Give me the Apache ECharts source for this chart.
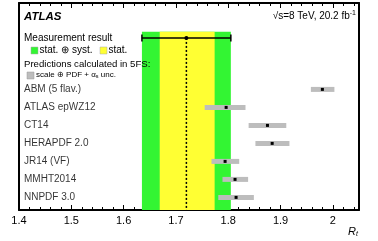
<!DOCTYPE html>
<html><head><meta charset="utf-8">
<script src="https://cdn.jsdelivr.net/npm/echarts@6/dist/echarts.min.js"></script>
<style>html,body{margin:0;padding:0;background:#fff}#c{width:378px;height:241px}</style>
</head><body><div id="c"></div>
<script>
// Predictions (top to bottom)
const names = ['ABM (5 flav.)','ATLAS epWZ12','CT14','HERAPDF 2.0','JR14 (VF)','MMHT2014','NNPDF 3.0'];
const central = [1.980, 1.796, 1.875, 1.884, 1.794, 1.813, 1.815];
const low = [1.958, 1.755, 1.839, 1.852, 1.768, 1.789, 1.781];
const high = [2.003, 1.833, 1.911, 1.917, 1.821, 1.838, 1.849];
// Measurement
const measCentral = 1.72;
const statRange = [1.669, 1.774];
const totalRange = [1.635, 1.805];
const xTicks = [1.4, 1.5, 1.6, 1.7, 1.8, 1.9, 2.0];

const Y_MIN = -4.8, Y_MAX = 6.7, MEAS_Y = -2.86, BAND_TOP = -3.2;
const FONT = 'Liberation Sans, Arial, sans-serif';

const chart = echarts.init(document.getElementById('c'));
const bandData = [[totalRange[0], totalRange[1], '#33f533'], [statRange[0], statRange[1], '#ffff33']];

const axisLine = {show: true, onZero: false, lineStyle: {color: '#000', width: 2}};

chart.setOption({
  animation: false,
  grid: {left: 19, right: 19, top: 3, bottom: 31},
  xAxis: [{
    type: 'value', min: 1.4, max: 2.05, interval: 0.1, position: 'bottom',
    axisLine: axisLine,
    axisTick: {show: true, inside: true, length: 5, lineStyle: {color: '#000', width: 1}},
    minorTick: {show: true, splitNumber: 5, length: 3, lineStyle: {color: '#000', width: 1}},
    splitLine: {show: false},
    axisLabel: {color: '#000', fontFamily: FONT, fontSize: 11, margin: 5, showMaxLabel: false,
      formatter: v => xTicks.some(t => Math.abs(t - v) < 1e-6) ? String(Math.round(v * 10) / 10) : ''}
  }, {
    type: 'value', min: 1.4, max: 2.05, interval: 0.1, position: 'top',
    axisLine: axisLine,
    axisTick: {show: true, inside: true, length: 5, lineStyle: {color: '#000', width: 1}},
    minorTick: {show: true, splitNumber: 5, length: 3, lineStyle: {color: '#000', width: 1}},
    splitLine: {show: false}, axisLabel: {show: false}
  }],
  yAxis: [{
    type: 'value', min: Y_MIN, max: Y_MAX, inverse: true, position: 'left',
    axisLine: axisLine,
    axisTick: {show: false}, splitLine: {show: false}, axisLabel: {show: false}
  }, {
    type: 'value', min: Y_MIN, max: Y_MAX, inverse: true, position: 'right',
    axisLine: axisLine,
    axisTick: {show: false}, splitLine: {show: false}, axisLabel: {show: false}
  }],
  series: [
    { // bands
      type: 'custom', z: 1,
      data: bandData,
      renderItem: (params, api) => {
        const p1 = api.coord([api.value(0), BAND_TOP]);
        const p2 = api.coord([api.value(1), Y_MAX]);
        return {type: 'rect', shape: {x: p1[0], y: p1[1], width: p2[0] - p1[0], height: p2[1] - p1[1]},
          style: {fill: bandData[params.dataIndex][2]}};
      }
    },
    { // measurement: dotted line + error bar
      type: 'custom', z: 3,
      data: [[measCentral, totalRange[0], totalRange[1]]],
      renderItem: (params, api) => {
        const c = api.coord([api.value(0), MEAS_Y]);
        const l = api.coord([api.value(1), MEAS_Y]);
        const r = api.coord([api.value(2), MEAS_Y]);
        const b = api.coord([api.value(0), Y_MAX]);
        return {type: 'group', children: [
          {type: 'line', shape: {x1: c[0], y1: c[1], x2: b[0], y2: b[1]}, style: {stroke: '#000', lineWidth: 1.5, lineDash: [2, 2]}},
          {type: 'line', shape: {x1: l[0], y1: l[1], x2: r[0], y2: r[1]}, style: {stroke: '#000', lineWidth: 1.5}},
          {type: 'line', shape: {x1: l[0], y1: l[1] - 3.5, x2: l[0], y2: l[1] + 3.5}, style: {stroke: '#000', lineWidth: 1.5}},
          {type: 'line', shape: {x1: r[0], y1: r[1] - 3.5, x2: r[0], y2: r[1] + 3.5}, style: {stroke: '#000', lineWidth: 1.5}},
          {type: 'circle', shape: {cx: c[0], cy: c[1], r: 2}, style: {fill: '#000'}}
        ]};
      }
    },
    { // predictions
      type: 'custom', z: 3,
      data: names.map((n, i) => [central[i], low[i], high[i], i]),
      renderItem: (params, api) => {
        const y = api.value(3);
        const c = api.coord([api.value(0), y]);
        const l = api.coord([api.value(1), y]);
        const r = api.coord([api.value(2), y]);
        return {type: 'group', children: [
          {type: 'rect', shape: {x: l[0], y: l[1] - 2.5, width: r[0] - l[0], height: 5}, style: {fill: '#bdbdbd'}},
          {type: 'rect', shape: {x: c[0] - 1.5, y: c[1] - 1.5, width: 3, height: 3}, style: {fill: '#000'}}
        ]};
      }
    },
    { // prediction labels
      type: 'scatter', z: 4, symbolSize: 0, silent: true,
      data: names.map((n, i) => ({value: [1.4, i], name: n})),
      label: {show: true, position: 'right', distance: 5, formatter: p => p.name,
        color: '#000', fontFamily: FONT, fontSize: 10}
    }
  ],
  graphic: [
    {type: 'text', z: 100, left: 24, top: 11, style: {text: 'ATLAS', font: 'italic bold 11.5px ' + FONT, fill: '#000'}},
    {type: 'text', z: 100, left: 24, top: 33, style: {text: 'Measurement result', font: '10px ' + FONT, fill: '#000'}},
    {type: 'rect', z: 100, shape: {x: 31, y: 47, width: 7, height: 7}, style: {fill: '#33f533', stroke: '#aaa', lineWidth: 0.5}},
    {type: 'text', z: 100, left: 39.5, top: 45, style: {text: 'stat. \u2295 syst.', font: '10px ' + FONT, fill: '#000'}},
    {type: 'rect', z: 100, shape: {x: 100, y: 47, width: 7, height: 7}, style: {fill: '#ffff33', stroke: '#aaa', lineWidth: 0.5}},
    {type: 'text', z: 100, left: 108.5, top: 45, style: {text: 'stat.', font: '10px ' + FONT, fill: '#000'}},
    {type: 'text', z: 100, left: 24, top: 59, style: {text: 'Predictions calculated in 5FS:', font: '9.6px ' + FONT, fill: '#000'}},
    {type: 'rect', z: 100, shape: {x: 27, y: 72, width: 7, height: 7}, style: {fill: '#bdbdbd', stroke: '#999', lineWidth: 0.5}},
    {type: 'text', z: 100, left: 36, top: 71, style: {
      text: '{a|scale \u2295 PDF + \u03b1}{s|s}{a| unc.}',
      rich: {a: {font: '8px ' + FONT, fill: '#000', verticalAlign: 'bottom'}, s: {font: '5.5px ' + FONT, fill: '#000', verticalAlign: 'bottom', padding: [3, 0, 0, 0]}}}},
    {type: 'text', z: 100, right: 22, top: 10, style: {
      text: '{a|\u221As=8 TeV, 20.2 fb}{s|-1}',
      rich: {a: {font: '10px ' + FONT, fill: '#000'}, s: {font: '7px ' + FONT, fill: '#000', padding: [0, 0, 5, 0]}}}},
    {type: 'text', z: 100, left: 348, top: 226, style: {
      text: '{a|R}{s|t}',
      rich: {a: {font: 'italic 11px ' + FONT, fill: '#000'}, s: {font: 'italic 7px ' + FONT, fill: '#000', padding: [6, 0, 0, 0]}}}}
  ]
});
</script></body></html>
